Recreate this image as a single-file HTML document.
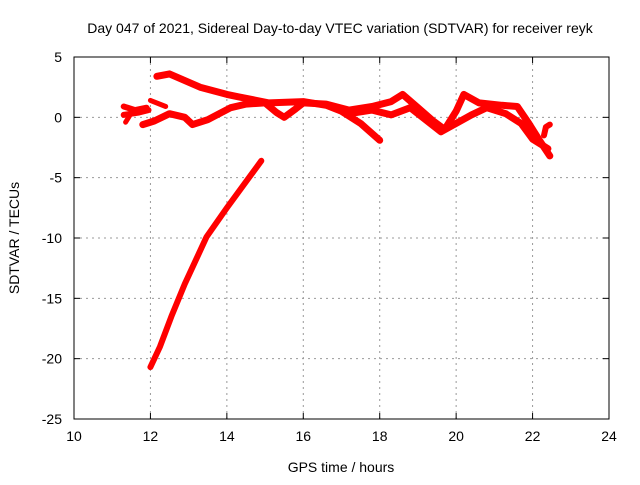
<!DOCTYPE html>
<html><head><meta charset="utf-8"><style>
body{margin:0;background:#fff;}
svg text{font-family:"Liberation Sans",sans-serif;font-size:14px;fill:#000;}
</style></head><body>
<svg id="chart" width="640" height="480" xmlns="http://www.w3.org/2000/svg">
<rect width="640" height="480" fill="#fff"/>
<text x="340" y="33" text-anchor="middle">Day 047 of 2021, Sidereal Day-to-day VTEC variation (SDTVAR) for receiver reyk</text>
<text x="341" y="472" text-anchor="middle">GPS time / hours</text>
<text transform="translate(19,238) rotate(-90)" text-anchor="middle">SDTVAR / TECUs</text>
<g id="grid"></g><g id="ticks"></g><g id="series"></g>
<rect x="74" y="57" width="535" height="362" fill="none" stroke="#000" stroke-width="1"/>
</svg>
<script>
const xTicks=[10,12,14,16,18,20,22,24];
const yTicks=[5,0,-5,-10,-15,-20,-25];
const trackSteepT=[12.0,12.25,12.55,12.9,13.47,14.0,14.6,14.9];
const trackSteepV=[-20.7,-19.0,-16.5,-13.8,-9.9,-7.5,-4.9,-3.6];
const trackUpperT=[12.17,12.5,13.3,14.0,14.3,15.1,16.0,16.6,17.0,17.5,18.0];
const trackUpperV=[3.4,3.6,2.5,1.9,1.7,1.2,1.3,1.0,0.5,-0.5,-1.9];
const trackShortT=[12.0,12.4];
const trackShortV=[1.4,0.9];
const trackLowT=[11.8,12.1,12.5,12.9,13.1,13.5,13.8,14.1,14.5,15.0,15.3,15.5,15.8,16.0,16.6,17.2];
const trackLowV=[-0.6,-0.3,0.3,0.0,-0.6,-0.2,0.3,0.8,1.1,1.2,0.4,0.0,0.7,1.2,1.1,0.6];
const trackLateAT=[17.2,17.8,18.3,18.6,19.0,19.4,19.7,20.0,20.2,20.6,21.2,21.6,21.9,22.2,22.45];
const trackLateAV=[0.6,0.9,1.3,1.9,0.8,-0.3,-1.0,0.5,1.9,1.2,1.0,0.9,-0.5,-2.0,-3.2];
const trackLateBT=[17.2,17.8,18.3,18.8,19.2,19.6,20.0,20.4,20.8,21.3,21.7,22.0,22.4];
const trackLateBV=[0.3,0.6,0.2,0.8,-0.2,-1.2,-0.5,0.2,0.8,0.3,-0.5,-1.8,-2.6];
const trackEndT=[22.3,22.35,22.45];
const trackEndV=[-1.5,-0.8,-0.6];
const trackEarlyT=[11.3,11.6,11.9];
const trackEarlyV=[0.9,0.6,0.8];
const trackEarly2T=[11.3,11.7,11.95];
const trackEarly2V=[0.2,0.4,0.6];
const trackEarly3T=[11.35,11.45];
const trackEarly3V=[-0.4,0.1];

const X0=74,X1=609,Y0=419,Y1=57;
const sx=t=>X0+(t-10)/(24-10)*(X1-X0);
const sy=v=>Y0-(v+25)/30*(Y0-Y1);
const NS="http://www.w3.org/2000/svg";
const grid=document.getElementById('grid'),ticks=document.getElementById('ticks'),ser=document.getElementById('series');
function mk(tag,attrs,parent){const e=document.createElementNS(NS,tag);for(const k in attrs)e.setAttribute(k,attrs[k]);parent.appendChild(e);return e;}
xTicks.forEach(t=>{const x=sx(t);
 if(t>10&&t<24){const g=mk('line',{x1:x,x2:x,y1:Y0,y2:Y1,stroke:'#999','stroke-dasharray':'2,4'},grid);
 
 }
 mk('line',{x1:x,x2:x,y1:Y0,y2:Y0-6,stroke:'#000'},ticks);
 mk('line',{x1:x,x2:x,y1:Y1,y2:Y1+6,stroke:'#000'},ticks);
 const l=mk('text',{x:x,y:Y0+22,'text-anchor':'middle'},ticks);l.textContent=t;
 
 });
yTicks.forEach(v=>{const y=sy(v);
 if(v>-25&&v<5){const g=mk('line',{x1:X0,x2:X1,y1:y,y2:y,stroke:'#999','stroke-dasharray':'2,4'},grid);
 
 }
 mk('line',{x1:X0,x2:X0+6,y1:y,y2:y,stroke:'#000'},ticks);
 mk('line',{x1:X1,x2:X1-6,y1:y,y2:y,stroke:'#000'},ticks);
 const l=mk('text',{x:X0-12,y:y+5,'text-anchor':'end'},ticks);l.textContent=v;
 
 });
function track(T,V,name,w){const pts=T.map((t,i)=>sx(t).toFixed(1)+','+sy(V[i]).toFixed(1)).join(' ');
 const p=mk('polyline',{points:pts,fill:'none',stroke:'#f00','stroke-width':w,'stroke-linejoin':'round','stroke-linecap':'round'},ser);
 
 }
track(trackSteepT,trackSteepV,'series-steep-track',6);
track(trackUpperT,trackUpperV,'series-upper-track',7);
track(trackShortT,trackShortV,'series-short-track',5);
track(trackLowT,trackLowV,'series-low-track',7);
track(trackLateAT,trackLateAV,'series-late-track-a',7);
track(trackLateBT,trackLateBV,'series-late-track-b',7);
track(trackEndT,trackEndV,'series-end-track',6);
track(trackEarlyT,trackEarlyV,'series-early-track',6);
track(trackEarly2T,trackEarly2V,'series-early-track-2',6);
track(trackEarly3T,trackEarly3V,'series-early-track-3',5);
</script>
</body></html>
